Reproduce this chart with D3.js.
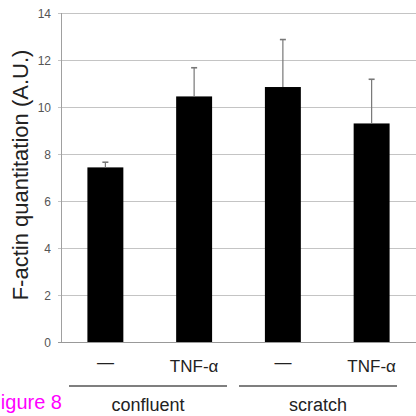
<!DOCTYPE html>
<html><head><meta charset="utf-8">
<script src="https://cdn.jsdelivr.net/npm/d3@7"></script>
<style>html,body{margin:0;padding:0;background:#fff;}svg{display:block;}</style>
</head><body>
<script>
const categories = ["c-ctrl", "c-tnf", "s-ctrl", "s-tnf"];
const treatmentLabels = ["—", "TNF-α", "—", "TNF-α"];
const groups = ["confluent", "scratch"];
const values = [7.43, 10.45, 10.85, 9.3];
const errors = [0.22, 1.22, 2.02, 1.88];
const yTicks = [0, 2, 4, 6, 8, 10, 12, 14];

const W = 416, H = 416;
const svg = d3.select("body").append("svg").attr("width", W).attr("height", H);
const x = d3.scaleBand().domain(categories).range([61, 416]).padding(0);
const y = d3.scaleLinear().domain([0, 14]).range([342, 13]);
const font = "Liberation Sans, Arial, sans-serif";

// grid lines
svg.append("g").selectAll("line").data(yTicks).join("line")
  .attr("x1", 58).attr("x2", 416)
  .attr("y1", d => Math.round(y(d)) + 0.5).attr("y2", d => Math.round(y(d)) + 0.5)
  .attr("stroke", d => d === 0 ? "#999" : "#c4c4c4").attr("stroke-width", 1);

// y axis line
svg.append("line").attr("x1", 61.5).attr("x2", 61.5).attr("y1", y(14)).attr("y2", y(0))
  .attr("stroke", "#a0a0a0").attr("stroke-width", 1);

// tick labels
svg.append("g").selectAll("text").data(yTicks).join("text")
  .attr("x", 51).attr("y", d => y(d) + 4.5)
  .attr("text-anchor", "end").attr("font-family", font).attr("font-size", 12)
  .attr("fill", "#555").text(d => d);

// bars
const bw = x.bandwidth() * 0.405;
const cx = d => x(d) + x.bandwidth() / 2;
svg.append("g").selectAll("rect").data(categories).join("rect")
  .attr("x", d => cx(d) - bw / 2).attr("width", bw)
  .attr("y", (d, i) => y(values[i])).attr("height", (d, i) => y(0) - y(values[i]))
  .attr("fill", "#000");

// error bars
const eg = svg.append("g").attr("stroke", "#777").attr("stroke-width", 1.2);
categories.forEach((c, i) => {
  eg.append("line").attr("x1", cx(c)).attr("x2", cx(c))
    .attr("y1", y(values[i])).attr("y2", y(values[i] + errors[i]));
  eg.append("line").attr("x1", cx(c) - 3).attr("x2", cx(c) + 3)
    .attr("y1", y(values[i] + errors[i])).attr("y2", y(values[i] + errors[i]))
    .attr("stroke-width", 1.6);
});

// y title
svg.append("text").attr("transform", "translate(28,175) rotate(-90)")
  .attr("text-anchor", "middle").attr("font-family", font).attr("font-size", 22)
  .attr("fill", "#222").text("F-actin quantitation (A.U.)");

// treatment labels
svg.append("g").selectAll("text").data(categories).join("text")
  .attr("x", d => cx(d)).attr("y", (d, i) => treatmentLabels[i] === "—" ? 368 : 372)
  .attr("text-anchor", "middle").attr("font-family", font).attr("font-size", 17)
  .attr("fill", "#222").text((d, i) => treatmentLabels[i]);

// group lines and labels
const lineInset = [[8, 11.5], [0.5, 19]];
groups.forEach((g, gi) => {
  const a = categories[gi * 2], b = categories[gi * 2 + 1];
  const x1 = x(a) + lineInset[gi][0], x2 = x(b) + x.bandwidth() - lineInset[gi][1];
  svg.append("line").attr("x1", x1).attr("x2", x2).attr("y1", 386).attr("y2", 386)
    .attr("stroke", "#555").attr("stroke-width", 1.5);
  svg.append("text").attr("x", (x1 + x2) / 2).attr("y", 411)
    .attr("text-anchor", "middle").attr("font-family", font).attr("font-size", 18)
    .attr("fill", "#222").text(g);
});

// figure caption (shown cropped in the reference)
svg.append("text").attr("x", 62).attr("y", 409).attr("text-anchor", "end")
  .attr("font-family", font).attr("font-size", 20).attr("fill", "#ff00ff").text("igure 8");
</script>
</body></html>
